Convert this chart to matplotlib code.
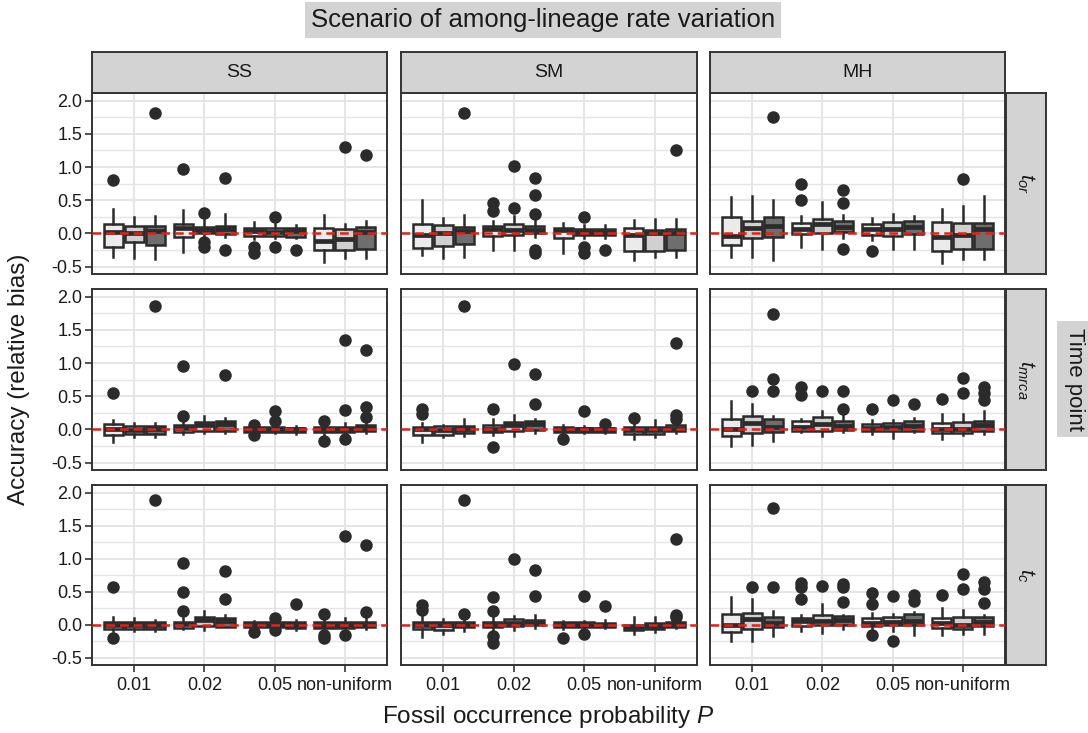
import matplotlib
matplotlib.use("Agg")
import matplotlib.pyplot as plt
import numpy as np

plt.rcParams['font.family'] = ['Liberation Sans', 'DejaVu Sans']
plt.rcParams['mathtext.fontset'] = 'custom'
plt.rcParams['mathtext.rm'] = 'Liberation Sans'
plt.rcParams['mathtext.it'] = 'Liberation Sans:italic'

# facet labels / categories
scenarios = ['SS', 'SM', 'MH']
time_points = [r'$t_{or}$', r'$t_{mrca}$', r'$t_{c}$']
probs = ['0.01', '0.02', '0.05', 'non-uniform']

# box stats per panel: one row per box (3 boxes per P level, in order)
# columns: lower whisker, q1, median, q3, upper whisker
ss_tor = [(-0.35, -0.20, 0.02, 0.14, 0.365), (-0.365, -0.13, 0.01, 0.11, 0.25), (-0.38, -0.175, 0.03, 0.11, 0.26),
          (-0.275, -0.05, 0.09, 0.14, 0.35), (-0.07, 0.0, 0.05, 0.10, 0.2), (-0.06, -0.01, 0.06, 0.12, 0.29),
          (-0.08, -0.04, 0.04, 0.08, 0.175), (-0.07, -0.04, 0.02, 0.085, 0.14), (-0.075, -0.05, 0.03, 0.09, 0.125),
          (-0.425, -0.25, -0.12, 0.09, 0.275), (-0.375, -0.25, -0.08, 0.075, 0.15), (-0.375, -0.24, 0.02, 0.10, 0.185)]
ss_tor_out = [[0.80], [], [1.815], [0.965], [0.31, -0.125, -0.2], [0.84, -0.25],
              [-0.2, -0.3], [0.25, -0.21], [-0.25], [], [1.30], [1.175]]

sm_tor = [(-0.325, -0.215, -0.02, 0.15, 0.51), (-0.375, -0.19, 0.0, 0.13, 0.24), (-0.36, -0.165, 0.04, 0.10, 0.285),
          (-0.25, -0.04, 0.07, 0.115, 0.19), (-0.25, -0.03, 0.05, 0.14, 0.26), (-0.05, 0.0, 0.05, 0.115, 0.2),
          (-0.30, -0.075, 0.05, 0.08, 0.16), (-0.07, -0.03, 0.02, 0.065, 0.13), (-0.075, -0.03, 0.02, 0.065, 0.125),
          (-0.40, -0.265, -0.02, 0.08, 0.21), (-0.35, -0.265, 0.0, 0.05, 0.225), (-0.35, -0.25, 0.0, 0.065, 0.225)]
sm_tor_out = [[], [], [1.815], [0.465, 0.34], [1.01, 0.39], [0.84, 0.575, 0.3, -0.25, -0.3],
              [], [0.25, -0.2, -0.3], [-0.25], [], [], [1.26]]

mh_tor = [(-0.35, -0.18, -0.04, 0.25, 0.55), (-0.35, -0.065, 0.08, 0.19, 0.57), (-0.40, -0.05, 0.11, 0.25, 0.50),
          (-0.21, -0.01, 0.06, 0.155, 0.26), (-0.23, 0.0, 0.15, 0.225, 0.47), (-0.075, 0.02, 0.10, 0.19, 0.285),
          (-0.10, -0.025, 0.07, 0.15, 0.24), (-0.24, -0.04, 0.06, 0.18, 0.30), (-0.23, -0.015, 0.10, 0.19, 0.26),
          (-0.44, -0.265, -0.06, 0.18, 0.365), (-0.385, -0.24, -0.03, 0.165, 0.41), (-0.39, -0.23, 0.07, 0.155, 0.57)]
mh_tor_out = [[], [], [1.75], [0.74, 0.51], [], [0.65, 0.465, -0.24],
              [-0.26], [], [], [], [0.825], []]

ss_tmrca = [(-0.195, -0.09, 0.0, 0.085, 0.14), (-0.11, -0.065, -0.01, 0.045, 0.10), (-0.11, -0.065, 0.0, 0.045, 0.10),
            (-0.075, -0.045, 0.02, 0.07, 0.115), (-0.05, -0.03, 0.06, 0.12, 0.2), (-0.05, -0.03, 0.08, 0.135, 0.175),
            (-0.06, -0.035, 0.0, 0.03, 0.05), (-0.05, -0.035, 0.0, 0.035, 0.06), (-0.07, -0.04, 0.0, 0.025, 0.055),
            (-0.08, -0.04, 0.0, 0.035, 0.07), (-0.075, -0.04, 0.0, 0.035, 0.10), (-0.06, -0.03, 0.02, 0.06, 0.13)]
ss_tmrca_out = [[0.55], [], [1.865], [0.95, 0.205], [], [0.815],
                [0.07, -0.085], [0.275, 0.125], [], [0.125, -0.175], [1.34, 0.29, -0.15], [1.2, 0.34, 0.19]]

sm_tmrca = [(-0.195, -0.08, 0.0, 0.04, 0.10), (-0.11, -0.08, -0.01, 0.045, 0.075), (-0.095, -0.055, 0.0, 0.045, 0.165),
            (-0.085, -0.04, 0.0, 0.06, 0.165), (-0.095, -0.03, 0.07, 0.11, 0.225), (-0.05, -0.015, 0.08, 0.125, 0.165),
            (-0.085, -0.045, 0.0, 0.035, 0.065), (-0.06, -0.04, 0.0, 0.025, 0.05), (-0.06, -0.04, 0.0, 0.025, 0.05),
            (-0.145, -0.07, -0.01, 0.035, 0.115), (-0.12, -0.07, -0.01, 0.035, 0.14), (-0.06, -0.03, 0.01, 0.06, 0.12)]
sm_tmrca_out = [[0.315, 0.24], [], [1.865], [0.305, -0.26], [0.99], [0.83, 0.39],
                [-0.145], [0.275], [0.09], [0.175], [], [1.305, 0.225, 0.165]]

mh_tmrca = [(-0.245, -0.105, 0.0, 0.16, 0.425), (-0.235, -0.055, 0.10, 0.20, 0.38), (-0.17, -0.045, 0.04, 0.16, 0.20),
            (-0.04, -0.03, 0.04, 0.125, 0.155), (-0.095, -0.03, 0.08, 0.185, 0.275), (-0.04, -0.015, 0.05, 0.135, 0.215),
            (-0.075, -0.02, 0.02, 0.085, 0.14), (-0.125, -0.02, 0.03, 0.10, 0.14), (-0.04, -0.03, 0.05, 0.135, 0.18),
            (-0.145, -0.055, 0.0, 0.10, 0.24), (-0.08, -0.055, 0.0, 0.11, 0.24), (-0.075, -0.02, 0.07, 0.13, 0.275)]
mh_tmrca_out = [[], [0.585], [1.74, 0.765, 0.575], [0.64, 0.515], [0.585], [0.585, 0.305],
                [0.305], [0.44], [0.38], [0.465], [0.775, 0.55], [0.64, 0.555, 0.44]]

ss_tc = [(-0.10, -0.06, 0.0, 0.045, 0.115), (-0.10, -0.06, 0.0, 0.045, 0.10), (-0.10, -0.06, 0.0, 0.045, 0.075),
         (-0.065, -0.045, 0.01, 0.045, 0.10), (-0.075, -0.02, 0.07, 0.12, 0.215), (-0.035, -0.03, 0.06, 0.105, 0.15),
         (-0.05, -0.03, 0.0, 0.035, 0.06), (-0.05, -0.03, 0.0, 0.035, 0.06), (-0.085, -0.045, 0.0, 0.045, 0.065),
         (-0.08, -0.045, 0.0, 0.035, 0.08), (-0.085, -0.045, 0.0, 0.035, 0.10), (-0.06, -0.03, 0.0, 0.035, 0.10)]
ss_tc_out = [[0.565, -0.2], [], [1.89], [0.94, 0.5, 0.215], [], [0.815, 0.39],
             [-0.115], [0.10, -0.085], [0.315], [0.165, -0.15, -0.2], [1.34, -0.15], [1.2, 0.185]]

sm_tc = [(-0.185, -0.06, 0.0, 0.045, 0.135), (-0.135, -0.08, -0.01, 0.045, 0.085), (-0.10, -0.035, 0.0, 0.035, 0.08),
         (-0.08, -0.035, 0.0, 0.045, 0.12), (-0.075, -0.02, 0.02, 0.08, 0.135), (-0.05, -0.01, 0.02, 0.07, 0.15),
         (-0.07, -0.035, 0.0, 0.035, 0.06), (-0.07, -0.035, 0.0, 0.035, 0.06), (-0.05, -0.03, 0.0, 0.03, 0.075),
         (-0.135, -0.085, -0.04, 0.0, 0.11), (-0.115, -0.07, -0.02, 0.02, 0.11), (-0.05, -0.03, 0.0, 0.035, 0.07)]
sm_tc_out = [[0.30, 0.225], [], [1.89, 0.16], [0.415, 0.215, -0.175, -0.275], [0.99], [0.825, 0.435],
             [-0.2], [0.44, -0.135], [0.285], [], [], [1.30, 0.15, 0.115]]

mh_tc = [(-0.24, -0.11, 0.0, 0.16, 0.415), (-0.25, -0.06, 0.09, 0.17, 0.39), (-0.165, -0.035, 0.02, 0.12, 0.21),
         (-0.10, -0.02, 0.05, 0.105, 0.15), (-0.125, -0.005, 0.05, 0.145, 0.315), (-0.065, -0.005, 0.07, 0.13, 0.15),
         (-0.075, -0.02, 0.02, 0.095, 0.175), (-0.10, -0.005, 0.04, 0.12, 0.16), (-0.15, -0.01, 0.06, 0.155, 0.185),
         (-0.16, -0.055, 0.03, 0.095, 0.25), (-0.135, -0.06, 0.0, 0.11, 0.225), (-0.135, -0.02, 0.04, 0.12, 0.14)]
mh_tc_out = [[], [0.575], [1.765, 0.575], [0.625, 0.575, 0.39], [0.585], [0.615, 0.565, 0.35],
             [0.475, 0.31, -0.16], [0.44, -0.25], [0.45, 0.365], [0.45], [0.775, 0.54], [0.64, 0.54, 0.325]]

panels = [[(ss_tor, ss_tor_out), (sm_tor, sm_tor_out), (mh_tor, mh_tor_out)],
          [(ss_tmrca, ss_tmrca_out), (sm_tmrca, sm_tmrca_out), (mh_tmrca, mh_tmrca_out)],
          [(ss_tc, ss_tc_out), (sm_tc, sm_tc_out), (mh_tc, mh_tc_out)]]

fills = ['#EBEBEB', '#D0D0D0', '#6E6E6E']
edge = '#2B2B2B'
grid_col = '#E5E5E5'
strip_col = '#D3D3D3'
dark = '#333333'

W, H = 1088, 733
cols = [(92, 387), (401, 697), (710, 1005)]
rows = [(93, 274), (289, 470), (485, 665)]


def rect(l, t, r, b):
    return [l / W, 1 - b / H, (r - l) / W, (b - t) / H]


fig = plt.figure(figsize=(W / 100, H / 100), dpi=100)

offsets = [-0.3, 0.0, 0.3]
for i, (t, b) in enumerate(rows):
    for j, (l, r) in enumerate(cols):
        ax = fig.add_axes(rect(l, t, r, b))
        stats, outs = panels[i][j]
        bxp_stats = []
        positions = []
        for k, (s, o) in enumerate(zip(stats, outs)):
            g, f = divmod(k, 3)
            bxp_stats.append(dict(whislo=s[0], q1=s[1], med=s[2], q3=s[3], whishi=s[4], fliers=o))
            positions.append(g + offsets[f])
        res = ax.bxp(bxp_stats, positions=positions, widths=0.27, patch_artist=True,
                     showcaps=False, manage_ticks=False,
                     boxprops=dict(edgecolor=edge, linewidth=1.8),
                     medianprops=dict(color=edge, linewidth=3.4, solid_capstyle='butt'),
                     whiskerprops=dict(color=edge, linewidth=1.8),
                     flierprops=dict(marker='o', markerfacecolor=edge, markeredgecolor=edge, markersize=8))
        for k, patch in enumerate(res['boxes']):
            patch.set_facecolor(fills[k % 3])
        ax.axhline(0, color='#D7261E', lw=1.8, ls=(0, (3.5, 2)), zorder=6)

        ax.set_xlim(-0.6, 3.6)
        ax.set_ylim(-0.61, 2.115)
        ax.set_xticks(range(4))
        ax.set_yticks(np.arange(-0.5, 2.01, 0.5))
        ax.set_yticks(np.arange(-0.25, 2.1, 0.5), minor=True)
        ax.grid(which='major', color=grid_col, lw=1.4)
        ax.grid(which='minor', axis='y', color=grid_col, lw=1.0)
        ax.set_axisbelow(True)
        for sp in ax.spines.values():
            sp.set_color(dark)
            sp.set_linewidth(1.4)
        ax.tick_params(which='minor', left=False)
        ax.tick_params(which='major', length=5, width=1.2, color=dark, labelsize=13,
                       labelcolor='#1A1A1A', pad=2)
        ax.tick_params(axis='x', pad=4)
        if j == 0:
            ax.set_yticklabels(['-0.5', '0.0', '0.5', '1.0', '1.5', '2.0'])
        else:
            ax.tick_params(axis='y', left=False, labelleft=False)
        if i == 2:
            ax.set_xticklabels(probs)
        else:
            ax.tick_params(axis='x', bottom=False, labelbottom=False)

# column strips
for j, (l, r) in enumerate(cols):
    sax = fig.add_axes(rect(l, 52, r, 93))
    sax.set_facecolor(strip_col)
    sax.set_xticks([])
    sax.set_yticks([])
    for sp in sax.spines.values():
        sp.set_color(dark)
        sp.set_linewidth(1.4)
    sax.text(0.5, 0.5, scenarios[j], ha='center', va='center', fontsize=14, color='#1A1A1A',
             transform=sax.transAxes)

# row strips
for i, (t, b) in enumerate(rows):
    sax = fig.add_axes(rect(1006, t, 1046, b))
    sax.set_facecolor(strip_col)
    sax.set_xticks([])
    sax.set_yticks([])
    for sp in sax.spines.values():
        sp.set_color(dark)
        sp.set_linewidth(1.4)
    sax.text(0.5, 0.5, time_points[i], ha='center', va='center', rotation=-90, fontsize=15,
             color='#1A1A1A', transform=sax.transAxes)

fig.text(543 / W, 1 - 20 / H, 'Scenario of among-lineage rate variation', ha='center', va='center',
         fontsize=18.5, color='#1A1A1A',
         bbox=dict(facecolor=strip_col, edgecolor='none', boxstyle='square,pad=0.25'))
fig.text(1074 / W, 1 - 379 / H, 'Time point', ha='center', va='center', rotation=-90,
         fontsize=16, color='#1A1A1A',
         bbox=dict(facecolor=strip_col, edgecolor='none', boxstyle='square,pad=0.3'))
fig.text(19 / W, 1 - 379 / H, 'Accuracy (relative bias)', ha='center', va='center', rotation=90,
         fontsize=17.5, color='#1A1A1A')
fig.text(548 / W, 1 - 717 / H, r'Fossil occurrence probability $P$', ha='center', va='center',
         fontsize=17.5, color='#1A1A1A')

fig.savefig('out.png', dpi=100)
